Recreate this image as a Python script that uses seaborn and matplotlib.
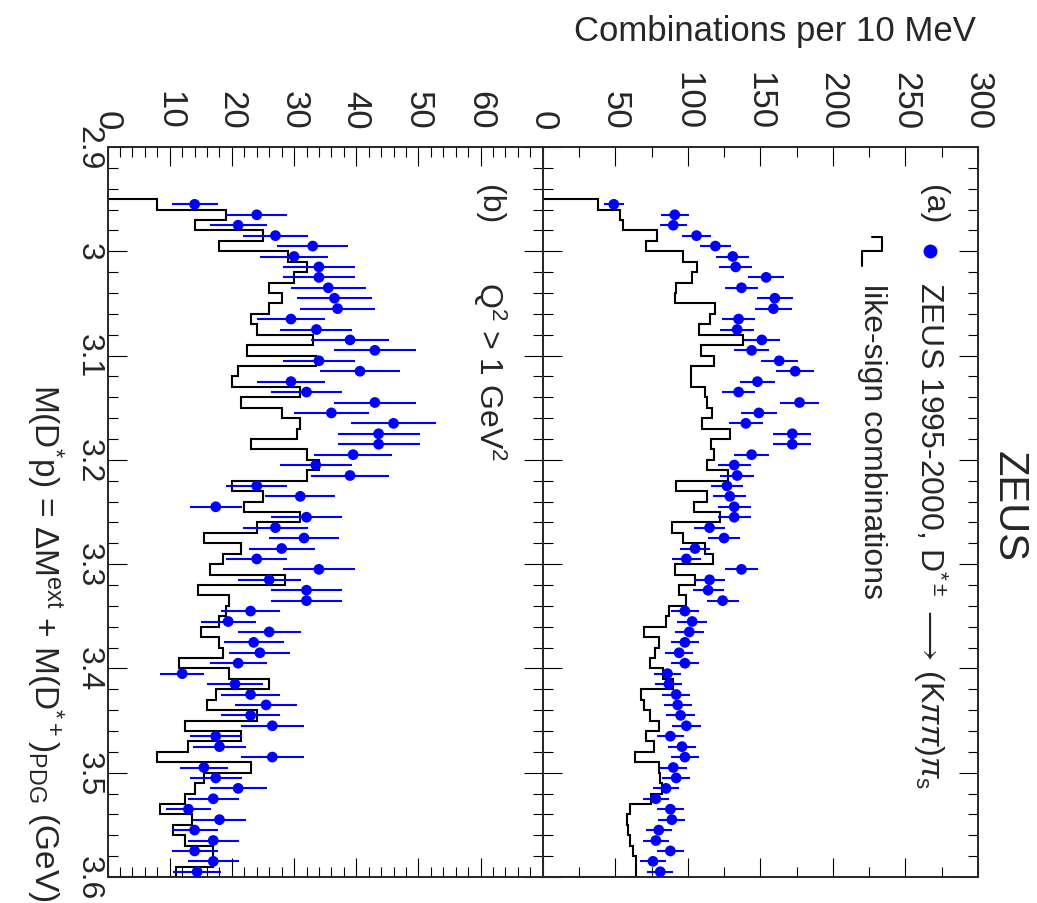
import numpy as np
import matplotlib
matplotlib.use("Agg")
import matplotlib.pyplot as plt
from matplotlib.lines import Line2D
from matplotlib.ticker import MultipleLocator, FixedLocator
import seaborn as sns

# 10 MeV bins, M(D*p) in GeV
mass_edges = [2.95, 2.96, 2.97, 2.98, 2.99, 3.00, 3.01, 3.02, 3.03, 3.04, 3.05,
              3.06, 3.07, 3.08, 3.09, 3.10, 3.11, 3.12, 3.13, 3.14, 3.15, 3.16,
              3.17, 3.18, 3.19, 3.20, 3.21, 3.22, 3.23, 3.24, 3.25, 3.26, 3.27,
              3.28, 3.29, 3.30, 3.31, 3.32, 3.33, 3.34, 3.35, 3.36, 3.37, 3.38,
              3.39, 3.40, 3.41, 3.42, 3.43, 3.44, 3.45, 3.46, 3.47, 3.48, 3.49,
              3.50, 3.51, 3.52, 3.53, 3.54, 3.55, 3.56, 3.57, 3.58, 3.59, 3.60]
mass_centres = [2.955, 2.965, 2.975, 2.985, 2.995, 3.005, 3.015, 3.025, 3.035, 3.045,
                3.055, 3.065, 3.075, 3.085, 3.095, 3.105, 3.115, 3.125, 3.135, 3.145,
                3.155, 3.165, 3.175, 3.185, 3.195, 3.205, 3.215, 3.225, 3.235, 3.245,
                3.255, 3.265, 3.275, 3.285, 3.295, 3.305, 3.315, 3.325, 3.335, 3.345,
                3.355, 3.365, 3.375, 3.385, 3.395, 3.405, 3.415, 3.425, 3.435, 3.445,
                3.455, 3.465, 3.475, 3.485, 3.495, 3.505, 3.515, 3.525, 3.535, 3.545,
                3.555, 3.565, 3.575, 3.585, 3.595]

# (a) all Q^2
a_data = [49, 91, 90, 106, 119, 131, 133, 154, 137, 160, 159, 135,
          134, 151, 144, 163, 174, 148, 135, 177, 149, 140, 172, 172, 144, 132,
          134, 127, 129, 132, 132, 115, 125, 105, 99, 137, 115, 114, 124, 98,
          103, 101, 98, 94, 98, 86, 87, 92, 93, 95, 99, 88, 96, 98, 90,
          92, 85, 78, 88, 89, 80, 78, 88, 76, 81]
a_err = [7.0, 9.5, 9.5, 10.3, 10.9, 11.4, 11.5, 12.4, 11.7, 12.6, 12.6, 11.6,
         11.6, 12.3, 12.0, 12.8, 13.2, 12.2, 11.6, 13.3, 12.2, 11.8, 13.1, 13.1, 12.0, 11.5,
         11.6, 11.3, 11.4, 11.5, 11.5, 10.7, 11.2, 10.2, 9.9, 11.7, 10.7, 10.7, 11.1, 9.9,
         10.1, 10.0, 9.9, 9.7, 9.9, 9.3, 9.3, 9.6, 9.6, 9.7, 9.9, 9.4, 9.8, 9.9, 9.5,
         9.6, 9.2, 8.8, 9.4, 9.4, 8.9, 8.8, 9.4, 8.7, 9.0]
a_like = [38, 53, 55, 79, 71.5, 97, 106, 103, 92, 91, 119, 115, 107.5, 138, 109,
          118, 102, 102, 112, 113, 117, 110, 129, 116, 118, 113, 128, 92, 113, 104,
          122, 89, 97, 112, 117.5, 91, 105, 94, 99, 87, 85, 70, 80, 77.5, 74,
          83, 90, 67.5, 70, 74, 80, 71.5, 77, 63.5, 80, 81, 82, 74.5, 60, 58,
          58.5, 60.5, 62, 64.5, 64]

# (b) Q^2 > 1 GeV^2
b_data = [14, 24, 21, 27, 33, 30, 34, 34, 35.5, 36.5, 37, 29.5,
          33.6, 39, 43, 34, 40.6, 29.5, 32, 43, 36, 46, 43.6, 43.6, 39.5, 33.5,
          39, 24, 31, 17.4, 32, 27, 31.6, 28, 24, 34, 26, 32, 32, 23,
          19.4, 26, 23.5, 24.5, 21, 12, 20.5, 23, 25.5, 23, 26.5, 17.4, 18, 26.5, 15.5,
          17.4, 21, 17, 13, 18, 14, 17, 14, 17, 14.4]
b_err = [3.7, 4.9, 4.6, 5.2, 5.7, 5.5, 5.8, 5.8, 6.0, 6.0, 6.1, 5.4,
         5.8, 6.2, 6.6, 5.8, 6.4, 5.4, 5.7, 6.6, 6.0, 6.8, 6.6, 6.6, 6.3, 5.8,
         6.2, 4.9, 5.6, 4.2, 5.7, 5.2, 5.6, 5.3, 4.9, 5.8, 5.1, 5.7, 5.7, 4.8,
         4.4, 5.1, 4.8, 4.9, 4.6, 3.5, 4.5, 4.8, 5.0, 4.8, 5.1, 4.2, 4.2, 5.1, 3.9,
         4.2, 4.6, 4.1, 3.6, 4.2, 3.7, 4.1, 3.7, 4.1, 3.8]
b_like = [8, 19, 14, 25, 18, 29, 32, 30, 26, 28, 26, 23, 24, 33, 22.5,
          33.5, 21, 20, 31, 21.5, 28, 31, 30.5, 23, 32, 34, 32, 20, 25, 22,
          31, 24, 15.5, 21.5, 18.5, 16.5, 28.5, 14.5, 19.5, 19, 18, 15, 18, 18.5, 11.5,
          19.5, 26, 17.5, 16, 24, 12.5, 21.5, 13, 8, 23, 15.5, 14, 12.5, 8.5, 13.5,
          10.5, 12.5, 17, 17, 11]

mass_ticks = [2.9, 3.0, 3.1, 3.2, 3.3, 3.4, 3.5, 3.6]
mass_labels = ["2.9", "3", "3.1", "3.2", "3.3", "3.4", "3.5", "3.6"]
b_ticks = [0, 10, 20, 30, 40, 50, 60, 70]
b_labels = ["0", "10", "20", "30", "40", "50", "60", ""]
a_ticks = [0, 50, 100, 150, 200, 250, 300]
a_labels = ["0", "50", "100", "150", "200", "250", "300"]

sns.set_style("ticks")
plt.rcParams["font.family"] = ["Liberation Sans", "DejaVu Sans"]
plt.rcParams["mathtext.fontset"] = "custom"
plt.rcParams["mathtext.rm"] = "Liberation Sans"
plt.rcParams["mathtext.it"] = "Liberation Sans:italic"
plt.rcParams["mathtext.bf"] = "Liberation Sans:bold"

W, H = 1037, 904


def fp(x, y):
    # pixel position -> figure fraction
    return x / W, 1 - y / H


fig = plt.figure(figsize=(W / 100, H / 100), dpi=100)
ax_b = fig.add_axes([107.6 / W, 26 / H, 435.1 / W, 730 / H])
ax_a = fig.add_axes([542.7 / W, 26 / H, 435.3 / W, 730 / H])

for ax, data, err, like in [(ax_b, b_data, b_err, b_like), (ax_a, a_data, a_err, a_like)]:
    ax.stairs(like, mass_edges, orientation="horizontal", baseline=0,
              color="black", linewidth=1.5, zorder=2)
    ax.errorbar(data, mass_centres, xerr=err, fmt="none", ecolor="blue",
                elinewidth=1.5, capsize=0, zorder=3)
    sns.scatterplot(x=data, y=mass_centres, ax=ax, color="blue", s=60,
                    edgecolor="none", zorder=4, legend=False)
    ax.set_ylim(3.6, 2.9)
    ax.yaxis.set_major_locator(FixedLocator(mass_ticks))
    ax.yaxis.set_minor_locator(MultipleLocator(0.02))
    ax.tick_params(axis="both", which="both", direction="in", top=True, bottom=True,
                   left=True, right=True, labeltop=True, labelbottom=False,
                   width=0.8, color="black")
    ax.tick_params(which="major", length=14)
    ax.tick_params(which="minor", length=7)
    ax.tick_params(axis="x", labelrotation=270, pad=13, labelsize=25)
    ax.tick_params(axis="y", labelrotation=270, pad=3, labelsize=23)
    for sp in ax.spines.values():
        sp.set_linewidth(1.4)
        sp.set_visible(True)
    ax.set_xlabel("")
    ax.set_ylabel("")

ax_b.set_xlim(0, 70)
ax_b.xaxis.set_major_locator(FixedLocator(b_ticks))
ax_b.xaxis.set_minor_locator(MultipleLocator(2))
ax_b.set_xticklabels(b_labels)
ax_b.set_yticklabels(mass_labels)
for lab in ax_b.get_yticklabels():
    lab.set_verticalalignment("center")

ax_a.set_xlim(0, 300)
ax_a.xaxis.set_major_locator(FixedLocator(a_ticks))
ax_a.xaxis.set_minor_locator(MultipleLocator(25))
ax_a.set_xticklabels(a_labels)
ax_a.tick_params(axis="y", labelleft=False)

# titles and labels
fig.text(*fp(976, 32), "Combinations per 10 MeV", ha="right", va="center", fontsize=25)
fig.text(*fp(1009, 507), "ZEUS", rotation=270, ha="center", va="center", fontsize=30)
fig.text(*fp(45, 902),
         r"M(D$^{*}$p) = $\Delta$M$^{\mathrm{ext}}$ + M(D$^{*+}$)$_{\mathrm{PDG}}$ (GeV)",
         rotation=270, ha="center", va="bottom", fontsize=24)

# legend of panel (a)
fig.text(*fp(933, 205), "(a)", rotation=270, ha="center", va="center", fontsize=23)
fig.add_artist(Line2D([930 / W], [1 - 252 / H], transform=fig.transFigure, marker="o",
                      markersize=9, color="blue", linestyle="none"))
fig.text(*fp(930, 282),
         r"ZEUS 1995-2000, D$^{*\pm}\,\longrightarrow\,$(K$\pi\pi$)$\pi_{\mathrm{s}}$",
         rotation=270, ha="center", va="top", fontsize=23)
sym_x = [871.7, 881.7, 881.7, 861.7, 861.7]
sym_y = [238.3, 238.3, 251.7, 251.7, 266.7]
fig.add_artist(Line2D([x / W for x in sym_x], [1 - y / H for y in sym_y],
                      transform=fig.transFigure, color="black", linewidth=1.5))
fig.text(*fp(872, 284), "like-sign combinations", rotation=270, ha="center", va="top",
         fontsize=23)

# panel (b) labels
fig.text(*fp(489, 205), "(b)", rotation=270, ha="center", va="center", fontsize=23)
fig.text(*fp(490, 282), r"Q$^{2}$ > 1 GeV$^{2}$", rotation=270, ha="center", va="top",
         fontsize=23)

fig.savefig("out.png", dpi=100)
